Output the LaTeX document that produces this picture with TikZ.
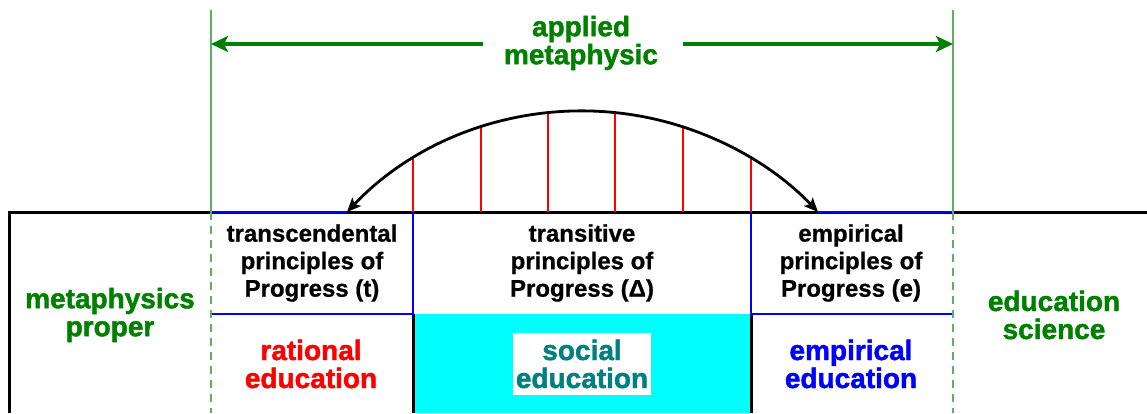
\documentclass[tikz,border=0pt]{standalone}
\usepackage{fontspec}
\setmainfont{Liberation Sans}
\newfontfamily\heavyfont[FakeBold=1.6]{Liberation Sans}
\newfontfamily\medfont[FakeBold=0.8]{Liberation Sans}
\usetikzlibrary{arrows.meta}
\definecolor{dgreen}{RGB}{0,128,0}
\definecolor{lgreen}{RGB}{95,175,95}
\definecolor{tealtxt}{RGB}{0,128,128}
\definecolor{aqua}{RGB}{0,255,255}
\begin{document}
\begin{tikzpicture}[x=1pt,y=1pt,
  blk/.style={font=\medfont\fontsize{24}{27.5}\selectfont\bfseries, align=center, text=black, inner sep=0pt},
  lbl/.style={font=\heavyfont\fontsize{28}{28}\selectfont\bfseries, align=center, inner sep=0pt},
  mainline/.style={line width=3pt, black},
  blueline/.style={line width=2.8pt, blue},
  hatch/.style={line width=2.6pt, red},
  guide/.style={line width=1.7pt, lgreen},
  guidedash/.style={guide, dash pattern=on 8pt off 6pt},
  span/.style={line width=3.2pt, dgreen, -{Stealth[length=17pt,width=16pt,inset=4pt]}},
  arcline/.style={line width=2.8pt, black, {Stealth[length=14pt,width=12pt,inset=3pt]}-{Stealth[length=14pt,width=12pt,inset=3pt]}}
]
\useasboundingbox (0,0) rectangle (1147,413);
% named coordinates
\coordinate (ol) at (9,0);
\coordinate (otl) at (9,201);
\coordinate (otr) at (1147,201);
\coordinate (gLt) at (211,403);
\coordinate (gLm) at (211,201);
\coordinate (gLb) at (211,0);
\coordinate (gRt) at (953,403);
\coordinate (gRm) at (953,201);
\coordinate (gRb) at (953,0);
\coordinate (aL) at (347,201);
\coordinate (aR) at (818,201);
\coordinate (bLt) at (413,201);
\coordinate (bLm) at (413,99);
\coordinate (bLb) at (413,0);
\coordinate (bRt) at (751,201);
\coordinate (bRm) at (751,99);
\coordinate (bRb) at (751,0);
\coordinate (lLm) at (211,99);
\coordinate (rRm) at (953,99);
% cyan field
\fill[aqua] (bLb) rectangle (bRm);
\draw[mainline] (bLb) -- (bLm);
\draw[mainline] (bRb) -- (bRm);
% outer black line
\draw[mainline] (ol) -- (otl) -- (otr);
% blue boxes
\draw[blueline] (gLm) -- (aL);
\draw[blueline] (aR) -- (gRm);
\draw[blueline] (bLt) -- (bLm) -- (lLm);
\draw[blueline] (bRt) -- (bRm) -- (rRm);
% green guides
\draw[guide] (gLt) -- (gLm);
\draw[guidedash] (gLm) -- (gLb);
\draw[guide] (gRt) -- (gRm);
\draw[guidedash] (gRm) -- (gRb);
% red hatching under the arc
\foreach \x/\y [count=\i] in {413/254.3, 481/285.7, 548/300.2, 615/300.4, 683/286.1, 751/254.9} {
  \coordinate (h\i t) at (\x,\y);
  \coordinate (h\i b) at (\x,201);
  \draw[hatch] (h\i b) -- (h\i t);
}
% arc
\draw[arcline] (aL) arc[start angle=136.44, end angle=43.56, radius=325];
% top label and arrows
\node[lbl, text=dgreen] (am) at (581,370) {applied\\metaphysic};
\coordinate (sL0) at (483,369);
\coordinate (sL1) at (211,369);
\coordinate (sR0) at (683,369);
\coordinate (sR1) at (953,369);
\draw[span] (sL0) -- (sL1);
\draw[span] (sR0) -- (sR1);
% side labels
\node[lbl, text=dgreen] (mp) at (110,98) {metaphysics\\proper};
\node[lbl, text=dgreen] (es) at (1054,98) {education\\science};
% principle labels
\node[blk] (tp) at (312,150) {transcendental\\principles of\\Progress (t)};
\node[blk] (trp) at (582,150) {transitive\\principles of\\Progress (Δ)};
\node[blk] (ep) at (851,150) {empirical\\principles of\\Progress (e)};
% education labels
\node[lbl, text=red] (re) at (311,49) {rational\\education};
\node[lbl, text=tealtxt, fill=white, minimum width=138pt, minimum height=62pt] (se) at (582,49) {social\\education};
\node[lbl, text=blue] (ee) at (851,49) {empirical\\education};
\end{tikzpicture}
\end{document}
